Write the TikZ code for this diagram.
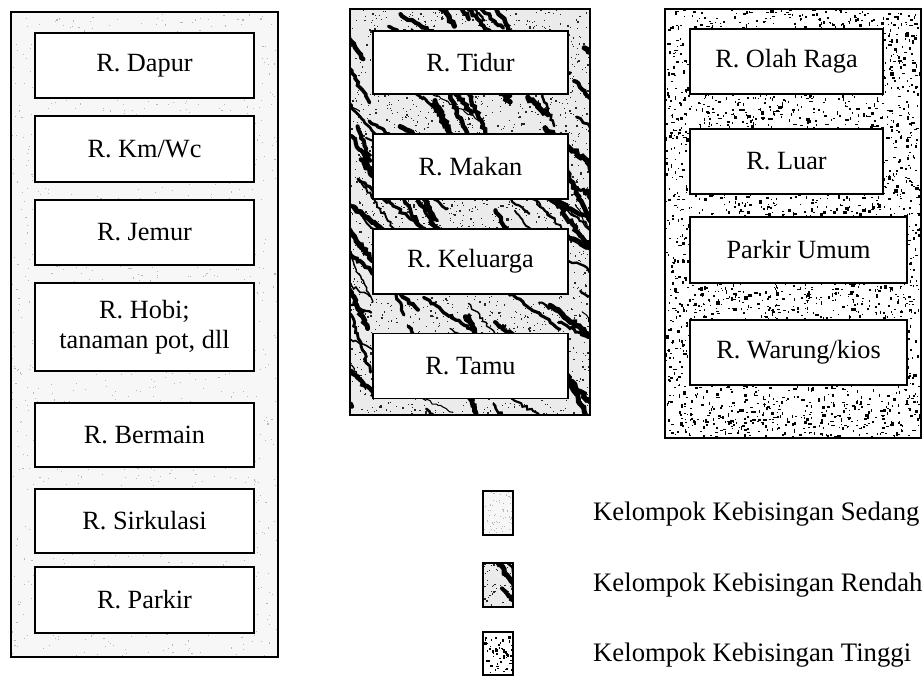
\documentclass[tikz,border=0pt]{standalone}
\usepackage{fontspec}
\setmainfont{Liberation Serif}
\usetikzlibrary{decorations.pathmorphing}
\newcommand\lightspeck[5]{%
  \fill[gray!6] (#1,#2) rectangle ++(#3,#4);
  \foreach \i in {1,...,#5}{\pgfmathsetmacro\px{#1+#3*rnd}\pgfmathsetmacro\py{#2+#4*rnd}\fill[gray!55] (\px,\py) rectangle ++(1.1,1.1);}}
\newcommand\darkspeck[5]{%
  \fill[white] (#1,#2) rectangle ++(#3,#4);
  \foreach \i in {1,...,#5}{\pgfmathsetmacro\px{#1+#3*rnd}\pgfmathsetmacro\py{#2+#4*rnd}\pgfmathsetmacro\ra{1.0+3.4*rnd*rnd}\pgfmathsetmacro\rb{1.0+3.4*rnd*rnd}\fill[black] (\px,\py) rectangle ++(\ra,\rb);}}
\newcommand\marble[6]{%
  \fill[gray!16] (#1,#2) rectangle ++(#3,#4);
  \foreach \i in {1,...,#5}{\pgfmathsetmacro\px{#1+#3*rnd}\pgfmathsetmacro\py{#2+#4*rnd}\pgfmathsetmacro\r{0.7+1.8*rnd*rnd}\fill[black!85] (\px,\py) rectangle ++(\r,\r);}
  \foreach \i in {1,...,#6}{\pgfmathsetmacro\sx{#1-40+(#3+40)*rnd}\pgfmathsetmacro\sy{#2-40+(#4+40)*rnd}\pgfmathsetmacro\len{25+85*rnd}\pgfmathsetmacro\ang{22+50*rnd}\pgfmathsetmacro\w{1+4.5*rnd}
    \draw[black,line width=\w pt,line cap=round,decorate,decoration={random steps,segment length=3pt,amplitude=1.5pt}] (\sx,\sy) -- ++(\ang:\len);}}
\begin{document}
\begin{tikzpicture}[x=1pt,y=-1pt,
  room/.style={draw=black,line width=1.6pt,fill=white,inner sep=0pt,outer sep=0pt,
    font=\fontsize{26.3pt}{30pt}\selectfont,align=center},
  panel/.style={draw=black,line width=1.8pt},
  legbox/.style={draw=black,line width=1.6pt},
  legtext/.style={anchor=west,inner sep=0pt,font=\fontsize{26.7pt}{30pt}\selectfont}]
\useasboundingbox (0,0) rectangle (923,677);
\pgfmathsetseed{7}

% ---- left panel (sedang)
\begin{scope}
  \clip (11,12) rectangle (278,657);
  \lightspeck{11}{12}{267}{645}{1500}
\end{scope}
\draw[panel] (11,12) rectangle (278,657);

% ---- middle panel (rendah)
\begin{scope}
  \clip (350,9) rectangle (590,415);
  \marble{350}{9}{240}{406}{2400}{110}
\end{scope}
\draw[panel] (350,9) rectangle (590,415);

% ---- right panel (tinggi)
\begin{scope}
  \clip (665,9) rectangle (921,438);
  \darkspeck{665}{9}{256}{429}{3200}
\end{scope}
\draw[panel] (665,9) rectangle (921,438);

% ---- left rooms
\node[room,minimum width=219pt,minimum height=65pt] (dapur) at (144.5,65.5) {R. Dapur};
\node[room,minimum width=219pt,minimum height=66pt] (kmwc) at (144.5,149) {R. Km/Wc};
\node[room,minimum width=219pt,minimum height=65pt] (jemur) at (144.5,232.5) {R. Jemur};
\node[room,minimum width=219pt,minimum height=88pt] (hobi) at (144.5,327) {R. Hobi;\\tanaman pot, dll};
\node[room,minimum width=219pt,minimum height=64pt] (bermain) at (144.5,435) {R. Bermain};
\node[room,minimum width=219pt,minimum height=64pt] (sirkulasi) at (144.5,521) {R. Sirkulasi};
\node[room,minimum width=219pt,minimum height=66pt] (parkir) at (144.5,600) {R. Parkir};

% ---- middle rooms
\node[room,minimum width=195pt,minimum height=63pt] (tidur) at (470.5,62.5) {R. Tidur};
\node[room,minimum width=195pt,minimum height=65pt] (makan) at (470.5,166.5) {R. Makan};
\node[room,minimum width=195pt,minimum height=65pt] (keluarga) at (470.5,261.5) {R. Keluarga};
\node[room,minimum width=195pt,minimum height=65pt] (tamu) at (470.5,366) {R. Tamu};

% ---- right rooms
\node[room,minimum width=193pt,minimum height=65pt] (olahraga) at (786.5,61.5) {R. Olah Raga};
\node[room,minimum width=193pt,minimum height=65pt] (luar) at (786.5,161.5) {R. Luar};
\node[room,minimum width=217pt,minimum height=66pt] (parkirumum) at (798.5,250) {Parkir Umum};
\node[room,minimum width=217pt,minimum height=65pt] (warung) at (798.5,352.5) {R. Warung/kios};

% ---- legend
\begin{scope}
  \clip (483,491) rectangle (513,535);
  \lightspeck{483}{491}{30}{44}{60}
\end{scope}
\draw[legbox] (483,491) rectangle (513,535);
\begin{scope}
  \clip (483,563) rectangle (513,607);
  \marble{483}{563}{30}{44}{50}{4}
\end{scope}
\draw[legbox] (483,563) rectangle (513,607);
\begin{scope}
  \clip (483,632) rectangle (513,675);
  \darkspeck{483}{632}{30}{43}{55}
\end{scope}
\draw[legbox] (483,632) rectangle (513,675);

\node[legtext] (lsedang) at (593,514) {Kelompok Kebisingan Sedang};
\node[legtext] (lrendah) at (593,585) {Kelompok Kebisingan Rendah};
\node[legtext] (ltinggi) at (593,655) {Kelompok Kebisingan Tinggi};
\end{tikzpicture}
\end{document}
